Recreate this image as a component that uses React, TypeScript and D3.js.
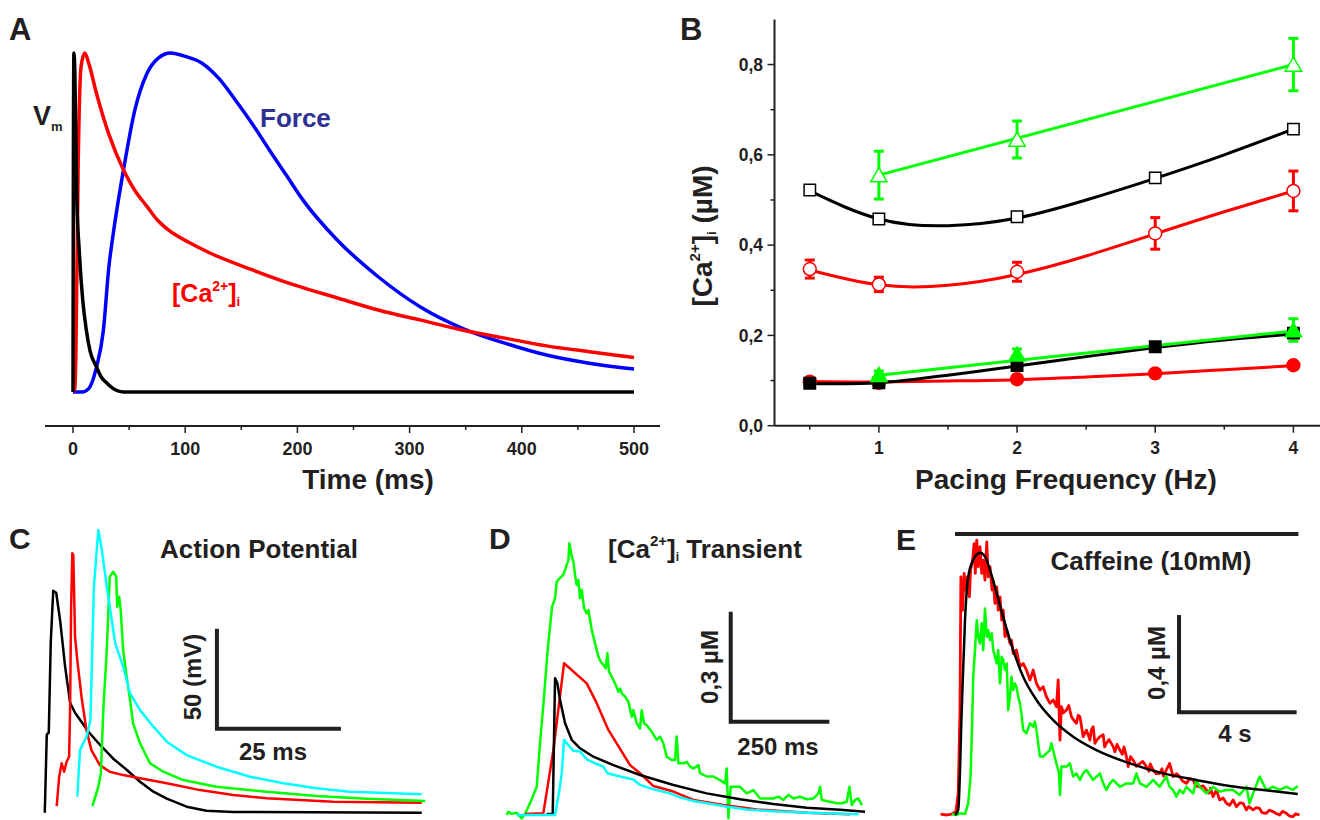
import React from "react";
import * as d3 from "d3";

const FONT = "'Liberation Sans', Arial, Helvetica, sans-serif";
const INK = "#231f20";
const RED = "#ff0000";
const GREEN = "#00ff00";
const BLUE = "#0000ff";
const CYAN = "#00ffff";
const NAVY = "#2e3192";

// ---------- A: normalised time courses (0 = rest, 1 = peak), time in ms
const vmTime = [0, 0.3, 0.8, 1.6, 3.4, 5.5, 8.7, 12, 15.3, 21, 25, 29, 35, 45, 500];
const vmValue = [0, 0.6, 1.0, 0.95, 0.57, 0.42, 0.27, 0.18, 0.12, 0.074, 0.045, 0.03, 0.012, 0, 0];
const caTime = [0, 1.6, 2.5, 4.6, 7.2, 10.5, 14, 21, 32, 45, 55, 66, 75, 85, 104, 122, 160, 197, 235, 272, 310, 347, 385, 422, 460, 500];
const caValue = [0, 0.01, 0.1, 0.67, 0.96, 1.0, 0.97, 0.88, 0.76, 0.655, 0.595, 0.547, 0.508, 0.478, 0.44, 0.41, 0.36, 0.316, 0.278, 0.242, 0.212, 0.183, 0.159, 0.136, 0.119, 0.102];
const forceTime = [0, 8, 14, 21, 27, 32, 36, 45, 55, 66, 76, 87, 100, 115, 130, 145, 160, 175, 190, 205, 235, 272, 310, 347, 385, 422, 460, 500];
const forceValue = [0, 0, 0.01, 0.074, 0.18, 0.37, 0.47, 0.655, 0.83, 0.94, 0.985, 1.0, 0.99, 0.97, 0.925, 0.86, 0.79, 0.714, 0.64, 0.566, 0.45, 0.34, 0.25, 0.188, 0.144, 0.109, 0.085, 0.068];

// ---------- B: [Ca2+]i (µM) vs pacing frequency (Hz)
const freqAll = [0.5, 1, 2, 3, 4];
const freqTri = [1, 2, 4];
const fitX = [0.5, 1, 1.5, 2, 2.5, 3, 3.5, 4];
const triOpen = [0.555, 0.634, 0.8];
const triOpenErr = [0.053, 0.041, 0.058];
const triOpenFit = [0.555, 0.8];
const sqOpen = [0.522, 0.458, 0.463, 0.549, 0.657];
const sqOpenFit = [0.52, 0.458, 0.443, 0.46, 0.5, 0.548, 0.6, 0.657];
const circOpen = [0.347, 0.313, 0.341, 0.426, 0.52];
const circOpenErr = [0.02, 0.016, 0.021, 0.035, 0.044];
const circOpenFit = [0.345, 0.312, 0.311, 0.335, 0.376, 0.425, 0.474, 0.52];
const triFilled = [0.113, 0.158, 0.212];
const triFilledErr = [0.008, 0.012, 0.025];
const triFilledFit = [0.112, 0.21];
const sqFilled = [0.094, 0.095, 0.133, 0.175, 0.205];
const sqFilledFit = [0.093, 0.095, 0.112, 0.132, 0.153, 0.173, 0.19, 0.203];
const circFilled = [0.0975, 0.095, 0.103, 0.116, 0.134];
const circFilledFit = [0.098, 0.097, 0.099, 0.102, 0.108, 0.115, 0.124, 0.133];

// ---------- C: action potentials (ms, mV)
const apBlackT = [0.3, 0.7, 1.1, 1.5, 2.0, 2.6, 3.4, 4.4, 5.4, 6.4, 9.1, 11.4, 14.1, 16.8, 19.5, 22.2, 24.9, 28.9, 32.9, 38.3, 76.3];
const apBlackV = [-80, -41, -40, 5, 31, 30, 16, -7, -25, -30, -39.5, -46, -53, -58.5, -64.5, -69.5, -73, -77, -79, -79.6, -80];
const apRedT = [2.7, 3.2, 3.7, 4.2, 4.7, 5.2, 5.4, 5.6, 5.85, 6.05, 6.4, 6.85, 7.7, 8.7, 9.7, 11.4, 13.4, 16.1, 19.5, 24.9, 31.6, 38.3, 45.0, 51.7, 58.5, 76.3];
const apRedV = [-76.7, -62, -55.3, -59.5, -54.5, -52, -28.7, 21.4, 49.7, 48.9, 8, -3.7, -22, -38.7, -48.7, -56.2, -59.5, -61.2, -62.8, -65.3, -68.7, -71.2, -72.8, -73.7, -74.5, -75];
const apCyanT = [6.85, 7.4, 8.7, 9.5, 10.2, 11.1, 11.8, 12.8, 14.5, 16.1, 17.5, 19.5, 22.2, 24.9, 28.9, 34.9, 41.7, 48.4, 55.1, 61.8, 76.3];
const apCyanV = [-72, -48.7, -42, -33.7, 33, 61.4, 51.4, 33, 4.7, -7, -20.3, -28.7, -37, -44.5, -51.2, -57, -62, -65.3, -67.8, -69.5, -70.8];
const apGreenT = [9.9, 11.1, 11.6, 12.1, 12.8, 13.4, 14.1, 14.7, 14.9, 15.3, 15.6, 16.1, 16.8, 17.5, 18.1, 19.5, 21.5, 24.2, 28.2, 34.9, 45.0, 55.1, 65.2, 77.0];
const apGreenV = [-76.7, -67, -60.3, -28.7, 1.4, 38, 40.5, 38, 23, 28, 21.4, 1.4, -12, -23.7, -35.3, -45.3, -55.3, -59.5, -63.7, -67, -69.5, -71.7, -73, -74.2];

// ---------- D: [Ca2+]i transients (ms, µM)
const ctBlackT = [101, 116.7, 122.6, 128.5, 135.2, 148, 164.8, 186, 219.8, 270.5, 338, 422.7, 507, 591.7, 676, 760.8, 845.3, 908.7];
const ctBlackC = [0.003, 0.003, 0.373, 0.359, 0.314, 0.25, 0.205, 0.182, 0.159, 0.136, 0.109, 0.082, 0.059, 0.043, 0.03, 0.02, 0.014, 0.009];
const ctRedT = [46.5, 93, 118.3, 145.4, 202.9, 228.2, 257.8, 312.8, 338, 372, 422.7, 473.4, 549.5, 634, 760.8, 870.7];
const ctRedC = [0.003, 0.005, 0.177, 0.414, 0.359, 0.305, 0.232, 0.136, 0.114, 0.079, 0.064, 0.041, 0.027, 0.015, 0.006, 0.002];
const ctCyanT = [25.4, 122.6, 133.6, 139.5, 145.4, 156.4, 169, 186, 202.9, 228.2, 245.1, 255.3, 287.4, 321.2, 338.1, 372, 414.2, 439.6, 473.4, 507.2, 557, 608.6, 676.2, 760.8, 891.8];
const ctCyanC = [0, 0, 0.068, 0.114, 0.205, 0.191, 0.175, 0.173, 0.152, 0.139, 0.132, 0.114, 0.105, 0.097, 0.082, 0.07, 0.059, 0.048, 0.038, 0.032, 0.023, 0.015, 0.01, 0.006, 0.002];
const ctGreenT = [0, 4.2, 12.7, 25.4, 38, 46.5, 59.2, 76.1, 84.5, 94.7, 103.1, 109.9, 115, 122.6, 126.8, 133.6, 143.7, 152.2, 156.4, 158.9, 164.8, 169.1, 173.3, 177.5, 181.7, 186, 190.2, 196.1, 202.9, 207.1, 215.6, 224, 232.5, 238.4, 245.1, 251.1, 255.3, 259.5, 266.3, 274.7, 283.2, 287.4, 291.6, 300.1, 308.5, 317, 321.2, 329.7, 338.1, 342.4, 348.3, 355, 367.7, 380.4, 388.8, 397.3, 405.7, 418.4, 426.9, 431.1, 435.3, 448, 456.5, 464.9, 473.4, 486.1, 490.3, 507.2, 524.1, 541, 553.7, 557.9, 562.1, 568, 591.7, 608.6, 625.5, 642.4, 659.3, 676.2, 688.9, 701.6, 714.3, 727, 743.9, 760.8, 777.7, 790.4, 794.6, 798.8, 819.9, 836.8, 849.5, 862.2, 869, 874.9, 883.3, 891.8, 900.3];
const ctGreenC = [0, 0.009, 0.003, 0.006, -0.009, 0.003, 0.032, 0.077, 0.195, 0.323, 0.441, 0.514, 0.568, 0.591, 0.636, 0.645, 0.655, 0.682, 0.695, 0.741, 0.705, 0.691, 0.655, 0.627, 0.641, 0.591, 0.614, 0.564, 0.55, 0.559, 0.505, 0.468, 0.432, 0.418, 0.409, 0.4, 0.441, 0.391, 0.377, 0.359, 0.336, 0.345, 0.332, 0.323, 0.309, 0.268, 0.286, 0.25, 0.236, 0.286, 0.25, 0.245, 0.227, 0.205, 0.214, 0.195, 0.159, 0.15, 0.15, 0.214, 0.141, 0.141, 0.145, 0.132, 0.127, 0.136, 0.114, 0.105, 0.105, 0.095, 0.086, 0.127, -0.009, 0.077, 0.077, 0.059, 0.068, 0.045, 0.045, 0.045, 0.05, 0.041, 0.055, 0.045, 0.05, 0.043, 0.045, 0.059, 0.077, 0.041, 0.036, 0.032, 0.032, 0.036, 0.077, 0.027, 0.041, 0.045, 0.027];

// ---------- E: caffeine-induced transients (s, µM)
const cfBlackT = [0.51, 0.62, 0.74, 0.85, 0.96, 1.13, 1.36, 1.53, 1.7, 1.93, 2.21, 2.49, 2.83, 3.28, 3.85, 4.53, 5.32, 6.46, 7.59, 8.72, 9.85, 10.99, 12.17];
const cfBlackC = [0, 0.021, 0.432, 0.801, 0.979, 1.048, 1.078, 1.062, 1.007, 0.911, 0.788, 0.678, 0.568, 0.473, 0.39, 0.322, 0.267, 0.212, 0.171, 0.144, 0.119, 0.103, 0.086];
const cfRedT = [0.02, 0.23, 0.4, 0.54, 0.62, 0.68, 0.71, 0.77, 0.82, 0.88, 0.93, 1.0, 1.04, 1.11, 1.16, 1.2, 1.25, 1.3, 1.36, 1.42, 1.47, 1.53, 1.59, 1.64, 1.7, 1.77, 1.81, 1.87, 1.93, 1.98, 2.04, 2.1, 2.15, 2.21, 2.27, 2.38, 2.43, 2.49, 2.6, 2.72, 2.83, 2.94, 3.06, 3.17, 3.28, 3.4, 3.51, 3.62, 3.74, 3.85, 3.96, 4.02, 4.08,
  4.13, 4.2, 4.3, 4.38, 4.47, 4.55, 4.64, 4.7, 4.76, 4.87, 4.98, 5.04, 5.1, 5.15, 5.21, 5.27, 5.35, 5.44, 5.55, 5.6, 5.66, 5.75, 5.89, 5.95, 6.02, 6.12, 6.2, 6.26, 6.34, 6.4, 6.48, 6.57, 6.68, 6.8, 6.9, 7.02, 7.1, 7.15, 7.25, 7.35, 7.47, 7.55, 7.6, 7.7, 7.81, 7.93, 8.05, 8.15, 8.25, 8.38, 8.5, 8.61, 8.7, 8.83, 8.95, 9.06, 9.15, 9.2, 9.29, 9.4, 9.51, 9.63, 9.74, 9.85, 9.97, 10.08, 10.2, 10.31, 10.42, 10.5, 10.65, 10.75, 10.87, 10.95, 11.1, 11.2, 11.33, 11.45, 11.55, 11.65, 11.78, 11.9, 12.0, 12.1, 12.23];
const cfRedC = [0.004, 0, 0.004, 0.014, 0.089, 0.432, 0.979, 0.842, 0.993, 0.925, 0.979, 0.897, 1.007, 1.048, 1.116, 0.993, 1.13, 1.021, 1.103, 0.993, 1.048, 0.966, 1.123, 0.979, 1.021, 0.925, 0.966, 0.87, 0.938, 0.842, 0.897, 0.801, 0.842, 0.733, 0.76, 0.705, 0.719, 0.664, 0.678, 0.61, 0.623, 0.596, 0.555, 0.596, 0.541, 0.514, 0.527, 0.486, 0.459, 0.473, 0.445, 0.555, 0.308,
  0.445, 0.42, 0.432, 0.45, 0.404, 0.39, 0.377, 0.41, 0.404, 0.322, 0.349, 0.33, 0.308, 0.35, 0.363, 0.295, 0.31, 0.322, 0.33, 0.28, 0.295, 0.31, 0.281, 0.26, 0.29, 0.267, 0.25, 0.28, 0.24, 0.199, 0.24, 0.226, 0.2, 0.212, 0.22, 0.199, 0.18, 0.21, 0.185, 0.17, 0.171, 0.19, 0.16, 0.185, 0.212, 0.158, 0.17, 0.158, 0.14, 0.13, 0.15, 0.144, 0.12, 0.116, 0.12, 0.103, 0.09, 0.11, 0.075, 0.103, 0.062, 0.07, 0.048, 0.04, 0.062, 0.034, 0.05, 0.048, 0.021, 0.035, 0.021, 0.03, 0.027, 0.01, 0.007, 0.02, 0.014, 0.005, 0, 0.015, 0.007, -0.005, -0.007, 0.005, 0];
const cfGreenT = [0.4, 0.54, 0.68, 0.85, 0.96, 1.04, 1.09, 1.13, 1.19, 1.25, 1.3, 1.36, 1.42, 1.47, 1.53, 1.59, 1.64, 1.7, 1.76, 1.81, 1.87, 1.93, 1.98, 2.04, 2.1, 2.15, 2.21, 2.27, 2.32, 2.38, 2.43, 2.49, 2.55, 2.6, 2.66, 2.72, 2.77, 2.83, 2.94, 3.06, 3.17, 3.23, 3.28, 3.4, 3.51, 3.62, 3.74, 3.79, 3.96, 4.05, 4.08, 4.13, 4.3, 4.42, 4.53, 4.64, 4.76, 4.87, 4.98, 5.21, 5.44, 5.55, 5.66, 5.78, 5.89, 6.12, 6.34, 6.57, 6.68, 6.8, 7.02, 7.25, 7.47, 7.7, 7.81, 7.93, 8.04, 8.15, 8.27, 8.38, 8.61, 8.72, 8.83, 9.06, 9.29, 9.51, 9.74, 9.97, 10.19, 10.42, 10.53, 10.65, 10.87, 11.1, 11.33, 11.55, 11.78, 12.0, 12.17];
const cfGreenC = [0.004, 0, 0.007, 0.004, 0.048, 0.158, 0.363, 0.568, 0.678, 0.801, 0.733, 0.705, 0.788, 0.678, 0.849, 0.733, 0.76, 0.719, 0.747, 0.678, 0.651, 0.623, 0.678, 0.541, 0.651, 0.637, 0.596, 0.623, 0.432, 0.486, 0.568, 0.514, 0.541, 0.527, 0.486, 0.459, 0.418, 0.349, 0.336, 0.377, 0.363, 0.384, 0.349, 0.24, 0.24, 0.253, 0.267, 0.295, 0.212, 0.171, 0.082, 0.199, 0.199, 0.212, 0.158, 0.171, 0.144, 0.171, 0.185, 0.144, 0.171, 0.13, 0.103, 0.13, 0.144, 0.116, 0.13, 0.13, 0.171, 0.13, 0.116, 0.144, 0.116, 0.158, 0.116, 0.103, 0.075, 0.103, 0.089, 0.116, 0.089, 0.144, 0.116, 0.089, 0.116, 0.096, 0.103, 0.103, 0.082, 0.116, 0.048, 0.089, 0.158, 0.103, 0.116, 0.103, 0.116, 0.103, 0.119];

const pairs = (a: number[], b: number[]) => a.map((d, i) => [d, b[i]] as [number, number]);
const commaFmt = d3.formatLocale({ decimal: ",", thousands: ".", grouping: [3], currency: ["", ""] }).format(".1f");

const textBase = { fontFamily: FONT, fontWeight: 700, fill: INK } as const;

function Trace({ d, color, w = 2.5 }: { d: string | null; color: string; w?: number }) {
  return <path d={d || ""} fill="none" stroke={color} strokeWidth={w} strokeLinejoin="round" strokeLinecap="butt" />;
}

function PanelA() {
  const x = d3.scaleLinear().domain([0, 500]).range([73, 634]);
  const y = d3.scaleLinear().domain([0, 1]).range([392, 53]);
  const line = d3.line<[number, number]>().x((d) => x(d[0])).y((d) => y(d[1])).curve(d3.curveMonotoneX);
  const axisY = 426;
  return (
    <g>
      <Trace d={line(pairs(forceTime, forceValue))} color={BLUE} w={3.5} />
      <Trace d={line(pairs(caTime, caValue))} color={RED} w={3.5} />
      <Trace d={line(pairs(vmTime, vmValue))} color="#000" w={3.5} />
      <line x1={45} x2={660} y1={axisY} y2={axisY} stroke={INK} strokeWidth={2} />
      {x.ticks(5).map((t) => (
        <g key={t}>
          <line x1={x(t)} x2={x(t)} y1={axisY} y2={axisY + 7} stroke={INK} strokeWidth={1.5} />
          <text x={x(t)} y={455} textAnchor="middle" fontSize={18} {...textBase}>{t}</text>
        </g>
      ))}
      {d3.range(50, 500, 100).map((t) => (
        <line key={t} x1={x(t)} x2={x(t)} y1={axisY} y2={axisY + 4} stroke={INK} strokeWidth={1.5} />
      ))}
      <text x={368} y={489} textAnchor="middle" fontSize={28} {...textBase}>Time (ms)</text>
      <text x={9} y={40} fontSize={31} {...textBase}>A</text>
      <text x={33} y={125} fontSize={27} {...textBase}>V<tspan fontSize={13} dy={6}>m</tspan></text>
      <text x={260} y={127} fontSize={26} {...textBase} fill={NAVY}>Force</text>
      <text x={172} y={302} fontSize={25} {...textBase} fill={RED}>
        [Ca<tspan fontSize={14} dy={-11}>2+</tspan><tspan dy={11}>]</tspan><tspan fontSize={13} dy={4}>i</tspan>
      </text>
    </g>
  );
}

function PanelB() {
  const x = d3.scaleLinear().domain([0, 4]).range([740.7, 1293.4]);
  const y = d3.scaleLinear().domain([0, 0.9]).range([425.7, 19.4]);
  const line = d3.line<[number, number]>().x((d) => x(d[0])).y((d) => y(d[1])).curve(d3.curveNatural);
  const ax = 774.5;
  const ay = 425.7;
  const sym = (type: d3.SymbolType, size: number) => d3.symbol().type(type).size(size)();
  const square = sym(d3.symbolSquare, 130);
  const circle = sym(d3.symbolCircle, 130);
  const triangle = sym(d3.symbolTriangle, 115);

  const errBars = (xs: number[], ys: number[], es: number[], color: string) =>
    xs.map((f, i) => (
      <g key={"e" + i} stroke={color} strokeWidth={3}>
        <line x1={x(f)} x2={x(f)} y1={y(ys[i] + es[i])} y2={y(ys[i] - es[i])} />
        <line x1={x(f) - 5} x2={x(f) + 5} y1={y(ys[i] + es[i])} y2={y(ys[i] + es[i])} />
        <line x1={x(f) - 5} x2={x(f) + 5} y1={y(ys[i] - es[i])} y2={y(ys[i] - es[i])} />
      </g>
    ));
  const marks = (xs: number[], ys: number[], path: string | null, color: string, filled: boolean, dy = 0) =>
    xs.map((f, i) => (
      <path key={"m" + i} d={path || ""} transform={`translate(${x(f)},${y(ys[i]) + dy})`}
        fill={filled ? color : "#fff"} stroke={color} strokeWidth={1.5} />
    ));

  return (
    <g>
      <line x1={ax} x2={ax} y1={19.4} y2={ay} stroke={INK} strokeWidth={2} />
      <line x1={ax} x2={1320} y1={ay} y2={ay} stroke={INK} strokeWidth={2} />
      {y.ticks(5).filter((v) => v <= 0.8).map((v) => (
        <g key={v}>
          <line x1={ax - 7} x2={ax} y1={y(v)} y2={y(v)} stroke={INK} strokeWidth={1.5} />
          <text x={763} y={y(v)} dy="0.36em" textAnchor="end" fontSize={17.5} {...textBase}>{commaFmt(v)}</text>
        </g>
      ))}
      {[0.1, 0.3, 0.5, 0.7].map((v) => (
        <line key={v} x1={ax - 4} x2={ax} y1={y(v)} y2={y(v)} stroke={INK} strokeWidth={1.5} />
      ))}
      {[1, 2, 3, 4].map((f) => (
        <g key={f}>
          <line x1={x(f)} x2={x(f)} y1={ay} y2={ay + 7} stroke={INK} strokeWidth={1.5} />
          <text x={x(f)} y={454} textAnchor="middle" fontSize={17.5} {...textBase}>{f}</text>
        </g>
      ))}
      {[0.5, 1.5, 2.5, 3.5].map((f) => (
        <line key={f} x1={x(f)} x2={x(f)} y1={ay} y2={ay + 4} stroke={INK} strokeWidth={1.5} />
      ))}

      {/* fitted lines */}
      <Trace d={line(pairs(fitX, circFilledFit))} color={RED} w={3} />
      <Trace d={line(pairs(fitX, sqFilledFit))} color="#000" w={3} />
      <Trace d={line(pairs([1, 4], triFilledFit))} color={GREEN} w={3} />
      <Trace d={line(pairs(fitX, circOpenFit))} color={RED} w={3} />
      <Trace d={line(pairs(fitX, sqOpenFit))} color="#000" w={3} />
      <Trace d={line(pairs([1, 4], triOpenFit))} color={GREEN} w={3} />

      {errBars(freqAll, circOpen, circOpenErr, RED)}
      {errBars(freqTri, triOpen, triOpenErr, GREEN)}
      {errBars(freqTri, triFilled, triFilledErr, GREEN)}

      {marks(freqAll, circFilled, circle, RED, true)}
      {marks(freqAll, sqFilled, square, "#000", true)}
      {marks(freqTri, triFilled, triangle, GREEN, true, 2)}
      {marks(freqAll, circOpen, circle, RED, false)}
      {marks(freqAll, sqOpen, square, "#000", false)}
      {marks(freqTri, triOpen, triangle, GREEN, false, 2)}

      <text x={1066} y={489} textAnchor="middle" fontSize={28} {...textBase}>Pacing Frequency (Hz)</text>
      <text transform="translate(712,236) rotate(-90)" textAnchor="middle" fontSize={28} {...textBase}>
        [Ca<tspan fontSize={15} dy={-12}>2+</tspan><tspan dy={12}>]</tspan><tspan fontSize={13} dy={4}>i</tspan><tspan dy={-4}> (µM)</tspan>
      </text>
      <text x={680} y={40} fontSize={31} {...textBase}>B</text>
    </g>
  );
}

function PanelC() {
  const x = d3.scaleLinear().domain([0, 25]).range([43.3, 167.3]);
  const y = d3.scaleLinear().domain([-80, -30]).range([812.7, 712.7]);
  const line = d3.line<[number, number]>().x((d) => x(d[0])).y((d) => y(d[1]));
  const bar = { t: 35, v: -38, dt: 25, dv: 50 };
  return (
    <g>
      <Trace d={line(pairs(apBlackT, apBlackV))} color="#000" />
      <Trace d={line(pairs(apRedT, apRedV))} color={RED} />
      <Trace d={line(pairs(apGreenT, apGreenV))} color={GREEN} />
      <Trace d={line(pairs(apCyanT, apCyanV))} color={CYAN} />
      <path d={`M${x(bar.t)},${y(bar.v + bar.dv)}V${y(bar.v)}H${x(bar.t + bar.dt)}`} fill="none" stroke={INK} strokeWidth={4} />
      <text x={273} y={760} textAnchor="middle" fontSize={24} {...textBase}>25 ms</text>
      <text transform="translate(201,677) rotate(-90)" textAnchor="middle" fontSize={24} {...textBase}>50 (mV)</text>
      <text x={259} y={558} textAnchor="middle" fontSize={26} {...textBase}>Action Potential</text>
      <text x={9} y={549} fontSize={30} {...textBase}>C</text>
    </g>
  );
}

function PanelD() {
  const x = d3.scaleLinear().domain([0, 250]).range([506.7, 605.3]);
  const y = d3.scaleLinear().domain([0, 0.3]).range([815, 705]);
  const line = d3.line<[number, number]>().x((d) => x(d[0])).y((d) => y(d[1]));
  const bar = { t: 568, c: 0.254, dt: 250, dc: 0.3 };
  return (
    <g>
      <Trace d={line(pairs(ctGreenT, ctGreenC))} color={GREEN} />
      <Trace d={line(pairs(ctRedT, ctRedC))} color={RED} />
      <Trace d={line(pairs(ctBlackT, ctBlackC))} color="#000" />
      <Trace d={line(pairs(ctCyanT, ctCyanC))} color={CYAN} />
      <path d={`M${x(bar.t)},${y(bar.c + bar.dc)}V${y(bar.c)}H${x(bar.t + bar.dt)}`} fill="none" stroke={INK} strokeWidth={4} />
      <text x={778} y={755} textAnchor="middle" fontSize={24} {...textBase}>250 ms</text>
      <text transform="translate(718,667) rotate(-90)" textAnchor="middle" fontSize={24} {...textBase}>0,3 µM</text>
      <text x={608} y={558} fontSize={26} {...textBase}>
        [Ca<tspan fontSize={15} dy={-12}>2+</tspan><tspan dy={12}>]</tspan><tspan fontSize={12} dy={3}>i</tspan><tspan dy={-3}> Transient</tspan>
      </text>
      <text x={489} y={549} fontSize={30} {...textBase}>D</text>
    </g>
  );
}

function PanelE() {
  const x = d3.scaleLinear().domain([0, 4]).range([940, 1057.6]);
  const y = d3.scaleLinear().domain([0, 0.4]).range([815, 717.7]);
  const linear = d3.line<[number, number]>().x((d) => x(d[0])).y((d) => y(d[1]));
  const smooth = d3.line<[number, number]>().x((d) => x(d[0])).y((d) => y(d[1])).curve(d3.curveMonotoneX);
  const bar = { t: 8.13, c: 0.422, dt: 4, dc: 0.4 };
  const caffeine = { t0: 0.51, t1: 12.19, c: 1.155 };
  return (
    <g>
      <Trace d={linear(pairs(cfRedT, cfRedC))} color={RED} w={2.8} />
      <Trace d={linear(pairs(cfGreenT, cfGreenC))} color={GREEN} />
      <Trace d={smooth(pairs(cfBlackT, cfBlackC))} color="#000" />
      <line x1={x(caffeine.t0)} x2={x(caffeine.t1)} y1={y(caffeine.c)} y2={y(caffeine.c)} stroke={INK} strokeWidth={4} />
      <path d={`M${x(bar.t)},${y(bar.c + bar.dc)}V${y(bar.c)}H${x(bar.t + bar.dt)}`} fill="none" stroke={INK} strokeWidth={4} />
      <text x={1235} y={742} textAnchor="middle" fontSize={24} {...textBase}>4 s</text>
      <text transform="translate(1165,663) rotate(-90)" textAnchor="middle" fontSize={24} {...textBase}>0,4 µM</text>
      <text x={1151} y={570} textAnchor="middle" fontSize={26} {...textBase}>Caffeine (10mM)</text>
      <text x={896} y={550} fontSize={30} {...textBase}>E</text>
    </g>
  );
}

export default function App() {
  return (
    <svg width={1320} height={820} viewBox="0 0 1320 820"
      style={{ position: "absolute", left: 0, top: 0, background: "#fff", display: "block" }}>
      <rect width={1320} height={820} fill="#fff" />
      <PanelA />
      <PanelB />
      <PanelC />
      <PanelD />
      <PanelE />
    </svg>
  );
}
